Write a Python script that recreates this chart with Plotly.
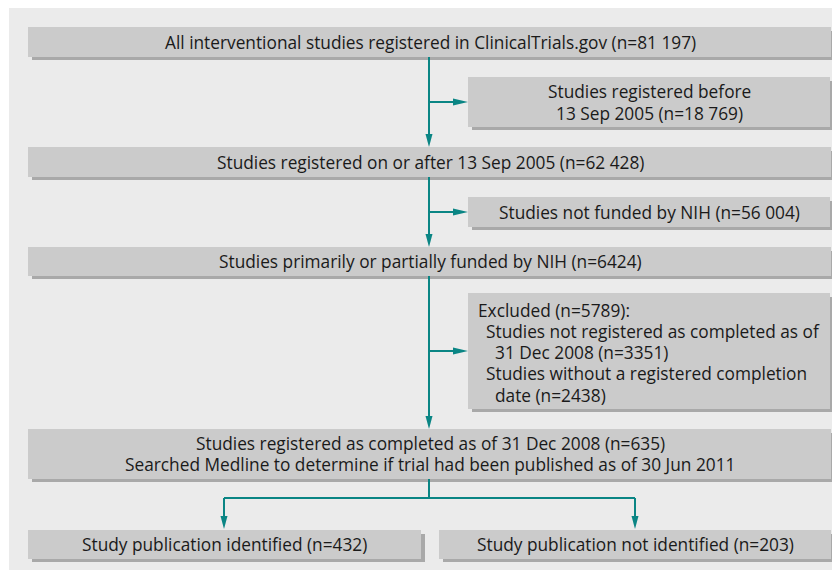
import plotly.graph_objects as go

# ---- content (flow stages and their counts) ----
main_labels = [
    "All interventional studies registered in ClinicalTrials.gov",
    "Studies registered on or after 13 Sep 2005",
    "Studies primarily or partially funded by NIH",
    "Studies registered as completed as of 31 Dec 2008",
]
main_counts = ["81 197", "62 428", "6424", "635"]
main_extra = ["", "", "", "Searched Medline to determine if trial had been published as of 30 Jun 2011"]

side_labels = ["Studies registered before<br>13 Sep 2005", "Studies not funded by NIH"]
side_counts = ["18 769", "56 004"]

excl_header = "Excluded"
excl_count = "5789"
excl_reasons = ["Studies not registered as completed as of", "Studies without a registered completion"]
excl_reason_tail = ["31 Dec 2008", "date"]
excl_reason_counts = ["3351", "2438"]

outcome_labels = ["Study publication identified", "Study publication not identified"]
outcome_counts = ["432", "203"]

# ---- layout geometry (page pixels; the page body adds an 8px offset) ----
W, H = 840, 572
OFF = 8
BG = "#ebebeb"
BOX = "#cbcbcb"
SHADOW = "#a9a9a9"
TEAL = "#0a8584"
TXT = "#1a1a1a"
FONT = "Open Sans"
FS = 17.3

main_boxes = [(28, 27, 831, 57), (28, 147, 831, 177), (28, 247, 831, 276), (28, 429, 831, 479)]
side_boxes = [(468, 77, 830, 127), (468, 197, 830, 227)]
excl_box = (468, 293, 830, 409)
out_boxes = [(28, 530, 421, 559), (439, 530, 831, 559)]
spine_x = 429

shapes = []
annotations = []

shapes.append(dict(type="rect", x0=9, y0=8, x1=W + OFF + 5, y1=570, fillcolor=BG, line_width=0, layer="below"))


def box(b):
    x0, y0, x1, y1 = b
    shapes.append(dict(type="rect", x0=x0 + 4, y0=y0 + 4, x1=x1 + 4, y1=y1 + 3,
                       fillcolor=SHADOW, line_width=0, layer="below"))
    shapes.append(dict(type="rect", x0=x0, y0=y0, x1=x1, y1=y1,
                       fillcolor=BOX, line_width=0, layer="below"))


def text(x, y, s, anchor="center"):
    annotations.append(dict(x=x, y=y, text=s, showarrow=False, xanchor=anchor, yanchor="middle",
                            align="center" if anchor == "center" else "left",
                            font=dict(family=FONT, size=FS, color=TXT)))


def line(x0, y0, x1, y1):
    shapes.append(dict(type="line", x0=x0, y0=y0, x1=x1, y1=y1, line=dict(color=TEAL, width=2)))


def head_down(x, y):
    shapes.append(dict(type="path", path=f"M {x-3.5},{y-13} L {x+3.5},{y-13} L {x},{y} Z",
                       fillcolor=TEAL, line_width=0))


def head_right(x, y):
    shapes.append(dict(type="path", path=f"M {x-15},{y-3.5} L {x-15},{y+3.5} L {x},{y} Z",
                       fillcolor=TEAL, line_width=0))


for b in main_boxes + side_boxes + [excl_box] + out_boxes:
    box(b)

for i, b in enumerate(main_boxes):
    cx = (b[0] + b[2]) / 2 + 0.5
    cy = (b[1] + b[3]) / 2
    if main_extra[i]:
        text(cx, cy - 10.5, f"{main_labels[i]} (n={main_counts[i]})")
        text(cx, cy + 10.5, main_extra[i])
    else:
        text(cx, cy, f"{main_labels[i]} (n={main_counts[i]})")

for i, b in enumerate(side_boxes):
    parts = side_labels[i].split("<br>")
    parts[-1] = parts[-1] + f" (n={side_counts[i]})"
    cx = (b[0] + b[2]) / 2
    cy = (b[1] + b[3]) / 2
    n = len(parts)
    for k, p in enumerate(parts):
        text(cx, cy + (k - (n - 1) / 2) * 22, p)

ex_lines = [
    (476, 310, f"{excl_header} (n={excl_count}):"),
    (484, 331, excl_reasons[0]),
    (493, 352, f"{excl_reason_tail[0]} (n={excl_reason_counts[0]})"),
    (484, 373, excl_reasons[1]),
    (493, 395, f"{excl_reason_tail[1]} (n={excl_reason_counts[1]})"),
]
for x, y, s in ex_lines:
    text(x, y, s, anchor="left")

for i, b in enumerate(out_boxes):
    text((b[0] + b[2]) / 2, (b[1] + b[3]) / 2, f"{outcome_labels[i]} (n={outcome_counts[i]})")

for i in range(3):
    top = main_boxes[i][3]
    bottom = main_boxes[i + 1][1]
    line(spine_x, top, spine_x, bottom - 10)
    head_down(spine_x, bottom)
for b in side_boxes + [excl_box]:
    y = (b[1] + b[3]) / 2
    line(spine_x, y, b[0] - 10, y)
    head_right(b[0], y)

branch_y = 498
line(spine_x, main_boxes[3][3], spine_x, branch_y)
xs = [224, 635]
line(xs[0], branch_y, xs[1], branch_y)
for x in xs:
    line(x, branch_y, x, out_boxes[0][1] - 10)
    head_down(x, out_boxes[0][1] - 1)

fig = go.Figure()
fig.update_layout(
    width=W, height=H, margin=dict(l=0, r=0, t=0, b=0),
    paper_bgcolor="white", plot_bgcolor="white",
    xaxis=dict(range=[OFF, W + OFF], visible=False, fixedrange=True),
    yaxis=dict(range=[H + OFF, OFF], visible=False, fixedrange=True),
    shapes=shapes, annotations=annotations, showlegend=False,
)
fig.write_html("out.html")
